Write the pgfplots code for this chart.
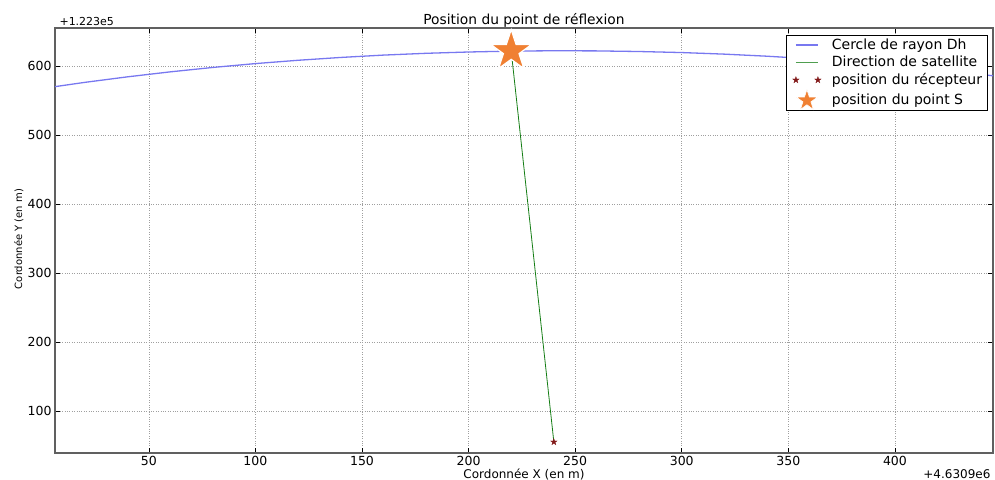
\documentclass[border=0pt]{standalone}
\usepackage{fontspec}
\setmainfont{DejaVu Sans}
\usepackage{pgfplots}
\pgfplotsset{compat=1.18}
\definecolor{circblue}{RGB}{120,120,240}
\definecolor{satgreen}{RGB}{20,125,20}
\definecolor{recred}{RGB}{130,25,25}
\definecolor{sorange}{RGB}{240,128,50}
\pgfdeclareplotmark{fstar}{%
 \pgfpathmoveto{\pgfpoint{0pt}{\pgfplotmarksize}}%
 \pgfpathlineto{\pgfpoint{-0.2245\pgfplotmarksize}{0.309\pgfplotmarksize}}%
 \pgfpathlineto{\pgfpoint{-0.951\pgfplotmarksize}{0.309\pgfplotmarksize}}%
 \pgfpathlineto{\pgfpoint{-0.363\pgfplotmarksize}{-0.118\pgfplotmarksize}}%
 \pgfpathlineto{\pgfpoint{-0.588\pgfplotmarksize}{-0.809\pgfplotmarksize}}%
 \pgfpathlineto{\pgfpoint{0pt}{-0.382\pgfplotmarksize}}%
 \pgfpathlineto{\pgfpoint{0.588\pgfplotmarksize}{-0.809\pgfplotmarksize}}%
 \pgfpathlineto{\pgfpoint{0.363\pgfplotmarksize}{-0.118\pgfplotmarksize}}%
 \pgfpathlineto{\pgfpoint{0.951\pgfplotmarksize}{0.309\pgfplotmarksize}}%
 \pgfpathlineto{\pgfpoint{0.2245\pgfplotmarksize}{0.309\pgfplotmarksize}}%
 \pgfpathclose
 \pgfusepathqfillstroke}
\begin{document}
\begin{tikzpicture}[x=1pt,y=1pt]
\path[use as bounding box] (0,0) rectangle (995,479);
\node[anchor=base, font=\fontsize{13.8}{15}\selectfont] at (524,454) {Position du point de réflexion};
\begin{axis}[
  at={(55pt,26pt)}, anchor=south west,
  scale only axis, width=938pt, height=425pt,
  xmin=6, xmax=446, ymin=39, ymax=655,
  xtick={50,100,...,400}, ytick={100,200,...,600},
  grid=major,
  major grid style={dotted, gray!75, line width=0.6pt},
  axis line style={gray!75!black, line width=1.5pt},
  tick align=inside, major tick length=5pt,
  tick style={black, line width=0.6pt},
  xtick pos=both, ytick pos=both,
  ticklabel style={font=\fontsize{12.5}{14}\selectfont},
  /pgf/number format/assume math mode=true,
  clip=false,
  legend cell align=left,
  legend style={at={(1,1)}, anchor=north east, xshift=-5pt, yshift=-7pt,
    draw=black, line width=1pt, font=\fontsize{14}{15}\selectfont,
    inner ysep=1.5pt, inner xsep=3.5pt, row sep=1.2pt, fill=white},
]
\addplot[circblue, line width=1.3pt,
  legend image code/.code={\path[draw=none] (0pt,0pt) -- (40pt,0pt); \draw[circblue, line width=1.3pt] (6pt,0pt) -- (28pt,0pt);}]
  coordinates {
(6,570.0) (20,576.2) (40,584.2) (60,591.4) (80,597.8) (100,603.4) (120,608.2)
(140,612.3) (160,615.7) (180,618.3) (200,620.2) (220,621.5) (240,622.0)
(260,621.8) (280,620.9) (300,619.4) (320,617.1) (340,614.1) (360,610.4)
(380,605.9) (400,600.7) (420,594.7) (440,587.9) (446,585.7)
};
\addlegendentry{Cercle de rayon Dh}
\addplot[satgreen, line width=0.8pt,
  legend image code/.code={\path[draw=none] (0pt,0pt) -- (40pt,0pt); \draw[satgreen!75!white, line width=0.9pt] (6pt,0pt) -- (28pt,0pt);}]
  coordinates {(220,621.5) (240,55)};
\addlegendentry{Direction de satellite}
\addplot[only marks, mark=fstar, mark size=3.4pt, mark options={fill=recred, draw=recred, line width=0.3pt},
  legend image code/.code={\path[draw=none] (0pt,0pt) -- (40pt,0pt); \path[draw=none] plot[mark=fstar, mark size=3.4pt, mark options={fill=recred, draw=recred, line width=0.3pt}] coordinates {(6pt,0pt) (28pt,0pt)};}]
  coordinates {(240,55)};
\addlegendentry{position du récepteur}
\addplot[only marks, mark=fstar, mark size=21.5pt, mark options={fill=sorange, draw=white, line width=1.2pt},
  legend image code/.code={\path[draw=none] (0pt,0pt) -- (40pt,0pt); \path[draw=none] plot[mark=fstar, mark size=11pt, mark options={fill=sorange, draw=white, line width=0.6pt}] coordinates {(17pt,-1pt)};}]
  coordinates {(220,621.5)};
\addlegendentry{position du point S}
\end{axis}
\node[anchor=base west, font=\fontsize{11}{13}\selectfont] at (56,453) {+1.223e5};
\node[anchor=base east, font=\fontsize{12}{13}\selectfont] at (994,1) {+4.6309e6};
\node[anchor=base, font=\fontsize{12}{13}\selectfont] at (524,1) {Cordonnée X (en m)};
\node[anchor=base, rotate=90, font=\fontsize{10}{12}\selectfont] at (22,240) {Cordonnée Y (en m)};
\end{tikzpicture}
\end{document}
